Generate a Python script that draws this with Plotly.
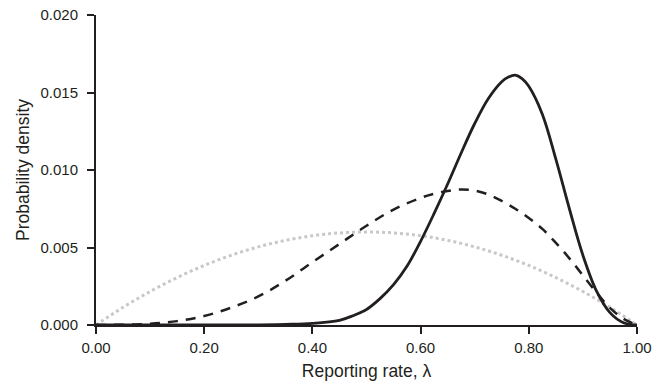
import plotly.graph_objects as go

# Reporting rate grid (lambda) and the three probability density curves
x_dotted = [0.0, 0.05, 0.1, 0.15, 0.2, 0.25, 0.3, 0.35, 0.4, 0.45, 0.5,
            0.55, 0.6, 0.65, 0.7, 0.75, 0.8, 0.85, 0.9, 0.95, 1.0]
y_dotted = [0.0, 0.00114, 0.00216, 0.00306, 0.00384, 0.0045, 0.00504, 0.00546,
            0.00576, 0.00594, 0.006, 0.00594, 0.00576, 0.00546, 0.00504, 0.0045,
            0.00384, 0.00306, 0.00216, 0.00114, 0.0]

x_dashed = [0.0, 0.05, 0.1, 0.15, 0.2, 0.25, 0.3, 0.35, 0.4, 0.45, 0.5, 0.55,
            0.6, 0.625, 0.65, 0.675, 0.7, 0.725, 0.75, 0.775, 0.8, 0.825, 0.85,
            0.875, 0.9, 0.925, 0.95, 0.975, 1.0]
y_dashed = [0.0, 0.00002, 0.00008, 0.00025, 0.00058, 0.00112, 0.00184, 0.00285,
            0.00405, 0.00523, 0.0064, 0.00745, 0.0082, 0.00847, 0.00865, 0.00874,
            0.00867, 0.00842, 0.008, 0.0075, 0.0069, 0.0062, 0.0053, 0.0043,
            0.0032, 0.0021, 0.0011, 0.0004, 0.0]

x_solid = [0.0, 0.1, 0.2, 0.3, 0.35, 0.4, 0.45, 0.475, 0.5, 0.525, 0.55, 0.575,
           0.6, 0.625, 0.65, 0.675, 0.7, 0.725, 0.75, 0.7625, 0.775, 0.7875, 0.8,
           0.825, 0.85, 0.875, 0.9, 0.925, 0.95, 0.975, 1.0]
y_solid = [0.0, 0.0, 0.0, 0.00001, 0.00004, 0.0001, 0.0003, 0.0006, 0.001, 0.0017,
           0.0026, 0.0038, 0.0054, 0.0072, 0.0091, 0.0111, 0.013, 0.0146, 0.0157,
           0.016, 0.01612, 0.0159, 0.0154, 0.0136, 0.0107, 0.0075, 0.0045, 0.0022,
           0.0008, 0.00015, 0.0]

x_ticks = [0.0, 0.2, 0.4, 0.6, 0.8, 1.0]
y_ticks = [0.0, 0.005, 0.01, 0.015, 0.02]

ink = "#231f20"

fig = go.Figure()
fig.add_trace(go.Scatter(x=x_dotted, y=y_dotted, mode="lines", line_shape="spline",
                         line=dict(color="#c8c8c8", width=3, dash="3px,3px")))
fig.add_trace(go.Scatter(x=x_dashed, y=y_dashed, mode="lines", line_shape="spline",
                         line=dict(color=ink, width=2.5, dash="10px,8px")))
fig.add_trace(go.Scatter(x=x_solid, y=y_solid, mode="lines", line_shape="spline",
                         line=dict(color=ink, width=2.8)))

fig.update_layout(
    width=667, height=384,
    margin=dict(l=96, r=30, t=15, b=59),
    paper_bgcolor="white", plot_bgcolor="white",
    showlegend=False,
    font=dict(family="Liberation Sans, Arial, sans-serif", color=ink, size=15),
)
fig.update_xaxes(
    range=[0, 1], tickvals=x_ticks, tickformat=".2f",
    showgrid=False, zeroline=False, automargin=False,
    showline=True, linecolor=ink, linewidth=2,
    ticks="outside", ticklen=7, tickwidth=1.5, tickcolor=ink,
    tickfont=dict(size=15), ticklabelstandoff=1,
    title=dict(text="Reporting rate, λ", font=dict(size=17.5), standoff=10),
)
fig.update_yaxes(
    range=[0, 0.02], tickvals=y_ticks, tickformat=".3f",
    showgrid=False, zeroline=False, automargin=False,
    showline=True, linecolor=ink, linewidth=2,
    ticks="outside", ticklen=7, tickwidth=1.5, tickcolor=ink,
    tickfont=dict(size=15), ticklabelstandoff=6,
    title=dict(text="Probability density", font=dict(size=17.5), standoff=6),
)

fig.write_html("out.html")
